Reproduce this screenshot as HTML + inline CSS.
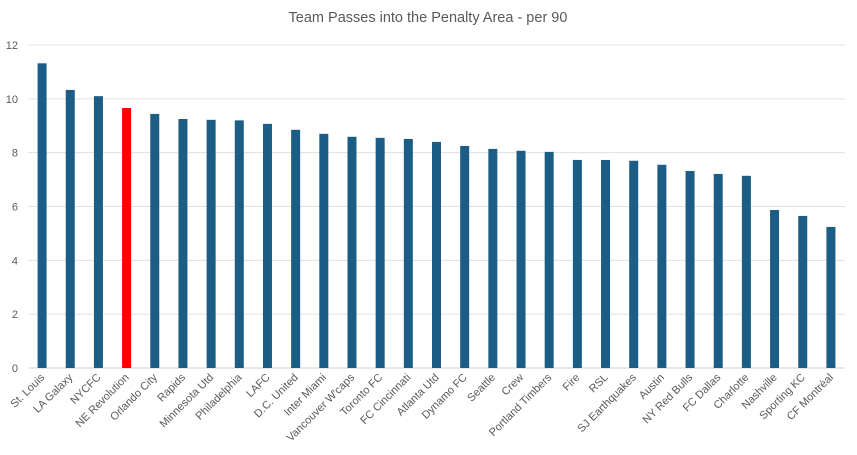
<!DOCTYPE html>
<html><head><meta charset="utf-8"><style>
body{margin:0;background:#fff;}
svg{display:block;font-family:"Liberation Sans",Arial,sans-serif;}
</style></head><body>
<svg id="chart" width="857" height="455">
<text x="428" y="22" text-anchor="middle" font-size="14.5" fill="#595959">Team Passes into the Penalty Area - per 90</text>
<g id="grid"></g><g id="bars"></g><g id="xl"></g>
</svg>
<script>
const teams=["St. Louis","LA Galaxy","NYCFC","NE Revolution","Orlando City","Rapids","Minnesota Utd","Philadelphia","LAFC","D.C. United","Inter Miami","Vancouver W'caps","Toronto FC","FC Cincinnati","Atlanta Utd","Dynamo FC","Seattle","Crew","Portland Timbers","Fire","RSL","SJ Earthquakes","Austin","NY Red Bulls","FC Dallas","Charlotte","Nashville","Sporting KC","CF Montréal"];
const values=[11.32,10.33,10.1,9.66,9.44,9.25,9.22,9.2,9.07,8.85,8.7,8.59,8.55,8.51,8.4,8.25,8.14,8.07,8.03,7.73,7.73,7.7,7.55,7.32,7.21,7.14,5.87,5.65,5.24];
const highlight=["NE Revolution"];
const ticks=[0,2,4,6,8,10,12];
const NS="http://www.w3.org/2000/svg";
const x0=28,x1=845,y0=368,y1=45,ymax=12;
const y=v=>y0-(v/ymax)*(y0-y1);
const step=(x1-x0)/teams.length;
const xc=i=>x0+step*(i+0.5);
function mk(t,a,p){const e=document.createElementNS(NS,t);for(const k in a)e.setAttribute(k,a[k]);p.appendChild(e);return e;}
const g=document.getElementById('grid');
ticks.forEach(t=>{
 const l=mk('line',{x1:x0,x2:x1,y1:y(t),y2:y(t),stroke:t===0?'#d0d0d0':'#e0e0e0','stroke-width':1},g);
 
 
 const tx=mk('text',{x:18,y:y(t)+4,'text-anchor':'end','font-size':11,fill:'#595959'},g);
 tx.textContent=t;
 
 
});
const b=document.getElementById('bars'),xl=document.getElementById('xl');
teams.forEach((t,i)=>{
 const r=mk('rect',{x:xc(i)-4.5,y:y(values[i]),width:9,height:y0-y(values[i]),fill:highlight.includes(t)?'#ff0000':'#1b5d84'},b);
 
 
 const tx=mk('text',{x:xc(i)+3,y:378,'text-anchor':'end','font-size':11,fill:'#595959',transform:`rotate(-45 ${xc(i)+3} 378)`},xl);
 tx.textContent=t;
 
 
});
</script>
</body></html>
